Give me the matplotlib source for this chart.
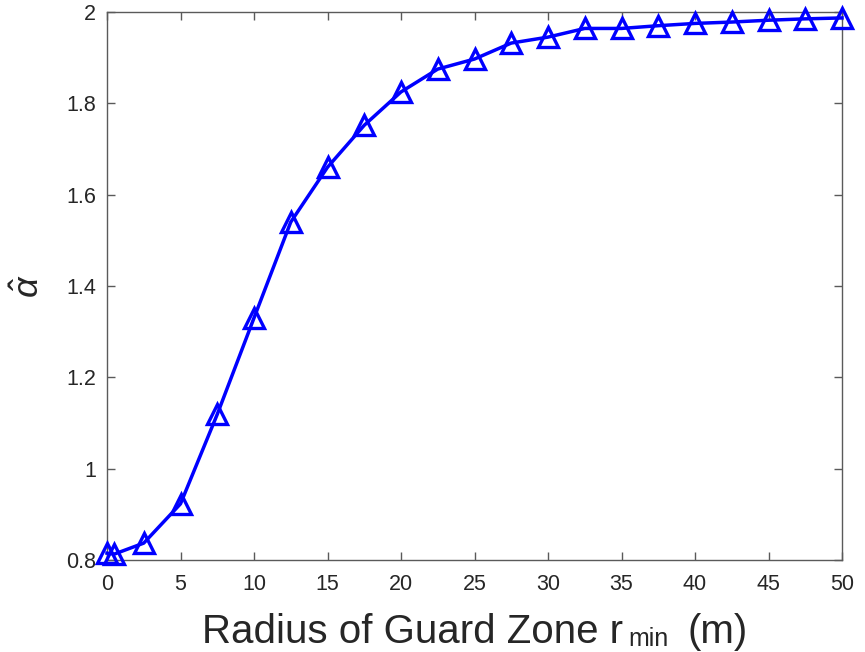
import matplotlib
matplotlib.use("Agg")
import matplotlib.pyplot as plt

plt.rcParams['font.family'] = ['Liberation Sans', 'DejaVu Sans']
plt.rcParams['mathtext.fontset'] = 'custom'
plt.rcParams['mathtext.rm'] = 'Liberation Sans'
plt.rcParams['mathtext.it'] = 'Liberation Sans:italic'

r_min = [0, 0.5, 2.5, 5, 7.5, 10, 12.5, 15, 17.5, 20, 22.5, 25, 27.5, 30,
         32.5, 35, 37.5, 40, 42.5, 45, 47.5, 50]
alpha_hat = [0.815, 0.813, 0.837, 0.923, 1.119, 1.330, 1.540, 1.660, 1.752,
             1.825, 1.875, 1.897, 1.932, 1.945, 1.964, 1.964, 1.970, 1.975,
             1.978, 1.982, 1.985, 1.987]
xticks = [0, 5, 10, 15, 20, 25, 30, 35, 40, 45, 50]
yticks = [0.8, 1.0, 1.2, 1.4, 1.6, 1.8, 2.0]
yticklabels = ['0.8', '1', '1.2', '1.4', '1.6', '1.8', '2']

W, H = 865, 652
fig = plt.figure(figsize=(W / 100, H / 100), dpi=100)
ax = fig.add_axes([107 / W, 1 - 560 / H, (842 - 107) / W, (560 - 12) / H])

ax.plot(r_min, alpha_hat, color='#0000ff', linewidth=2.5, marker='^',
        markersize=14.5, markerfacecolor='none', markeredgewidth=2.4,
        markeredgecolor='#0000ff', clip_on=False, zorder=3)

ax.set_xlim(0, 50)
ax.set_ylim(0.8, 2.0)
ax.set_xticks(xticks)
ax.set_xticklabels([str(t) for t in xticks])
ax.set_yticks(yticks)
ax.set_yticklabels(yticklabels)

gray = '#262626'
for s in ax.spines.values():
    s.set_color('#5a5a5a')
    s.set_linewidth(1.0)
ax.tick_params(direction='in', top=True, right=True, length=6, width=1.0,
               color='#5a5a5a', labelsize=15.5, labelcolor=gray)
ax.tick_params(axis='x', pad=10)
ax.tick_params(axis='y', pad=8)

ax.set_ylabel(r'$\hat{\alpha}$', fontsize=26, color=gray)
ax.yaxis.set_label_coords((47 - 107) / 735, 0.5)

# x label drawn in three pieces to mimic the deep subscript of the original
fig.text(202 / W, 1 - 643 / H, 'Radius of Guard Zone r', fontsize=29,
         color=gray, ha='left', va='baseline')
fig.text(628 / W, 1 - 651 / H, 'min', fontsize=18, color=gray,
         ha='left', va='bottom')
fig.text(688 / W, 1 - 643 / H, '(m)', fontsize=29, color=gray,
         ha='left', va='baseline')

fig.savefig('out.png', dpi=100)
